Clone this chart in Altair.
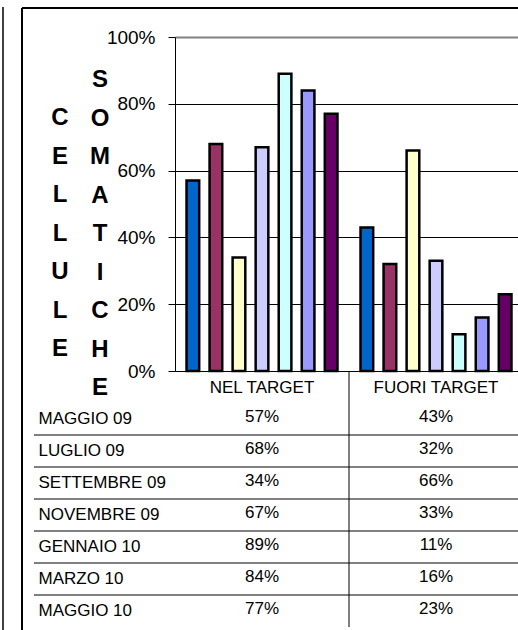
import altair as alt
import pandas as pd

# Somatic cell counts: share of samples in / out of target, by sampling month
months = ["MAGGIO 09", "LUGLIO 09", "SETTEMBRE 09", "NOVEMBRE 09",
          "GENNAIO 10", "MARZO 10", "MAGGIO 10"]
categories = ["NEL TARGET", "FUORI TARGET"]
nel_target = [0.57, 0.68, 0.34, 0.67, 0.89, 0.84, 0.77]
fuori_target = [0.43, 0.32, 0.66, 0.33, 0.11, 0.16, 0.23]
palette = ["#0066CC", "#993366", "#FFFFCC", "#CCCCFF",
           "#CCFFFF", "#9999FF", "#660066"]
title_first = list("CELLULE")
title_second = list("SOMATICHE")

FONT = "Liberation Sans"
W, H = 343, 334          # plot area
TABLE_TOP, TABLE_BOTTOM = 366, 590

rows = []
for m, a, b in zip(months, nel_target, fuori_target):
    rows.append({"month": m, "category": categories[0], "value": a})
    rows.append({"month": m, "category": categories[1], "value": b})
df = pd.DataFrame(rows)
one = pd.DataFrame({"k": [0]})

x_scale = alt.Scale(domain=categories, range=[0, 348], paddingInner=0, paddingOuter=0)
x_axis = alt.Axis(title=None, ticks=False, labelAngle=0, labelPadding=8,
                  labelFontSize=17, labelFont=FONT, labelColor="black",
                  domainColor="black", domainWidth=1)
row_scale = alt.Scale(domain=months, range=[TABLE_TOP, TABLE_BOTTOM],
                      paddingInner=0, paddingOuter=0)
row_axis = alt.Axis(orient="left", title=None, domain=False, ticks=False, grid=False,
                    labelAlign="left", labelPadding=137, labelFontSize=17,
                    labelFont=FONT, labelColor="black", labelLimit=300)

bars = alt.Chart(df).mark_bar(stroke="black", strokeWidth=2.5).encode(
    x=alt.X("category:N", scale=x_scale, axis=x_axis),
    xOffset=alt.XOffset("month:N", scale=alt.Scale(domain=months, paddingInner=0.45,
                                                   paddingOuter=0.5)),
    y=alt.Y("value:Q", scale=alt.Scale(domain=[0, 1]),
            axis=alt.Axis(title=None, format=".0%", values=[0, 0.2, 0.4, 0.6, 0.8, 1],
                          tickSize=7, tickColor="black", labelPadding=13,
                          labelFontSize=19, labelFont=FONT, labelColor="black",
                          domainColor="black",
                          gridColor={"condition": {"test": "datum.value === 1", "value": "#808080"},
                                     "value": "black"},
                          gridWidth={"condition": {"test": "datum.value === 1", "value": 2},
                                     "value": 1},
                          gridOpacity=1)),
    color=alt.Color("month:N", scale=alt.Scale(domain=months, range=palette), legend=None),
)

# stacked-letter axis title, two columns (y is the first line of each column)
title_a = alt.Chart(one).mark_text(
    text=title_first, font=FONT, fontSize=24, fontWeight="bold", lineHeight=38.5,
    align="center", baseline="middle", color="black",
).encode(x=alt.value(-115), y=alt.value(81))
title_b = alt.Chart(one).mark_text(
    text=title_second, font=FONT, fontSize=24, fontWeight="bold", lineHeight=38.5,
    align="center", baseline="middle", color="black",
).encode(x=alt.value(-75), y=alt.value(43))

# chart frame
frame_top = alt.Chart(one).mark_rule(color="black", strokeWidth=2).encode(
    x=alt.value(-153), x2=alt.value(W), y=alt.value(-29))
frame_left = alt.Chart(one).mark_rule(color="black", strokeWidth=2).encode(
    x=alt.value(-153), y=alt.value(-29), y2=alt.value(600))
outer_left = alt.Chart(one).mark_rule(color="black", strokeWidth=1.5).encode(
    x=alt.value(-172), y=alt.value(-30), y2=alt.value(600))

main = alt.layer(bars, title_a, title_b, frame_top, frame_left, outer_left)

# data table under the plot
cells = alt.Chart(df).mark_text(font=FONT, fontSize=17, color="black",
                                baseline="middle", dy=-2).encode(
    x=alt.X("category:N", scale=x_scale, axis=x_axis),
    y=alt.Y("month:N", scale=row_scale, axis=row_axis),
    text=alt.Text("value:Q", format=".0%"),
)
separators = alt.Chart(pd.DataFrame({"month": months[1:]})).mark_rule(
    color="black", strokeWidth=1).encode(
    y=alt.Y("month:N", scale=row_scale, axis=row_axis, bandPosition=0),
    x=alt.value(-141), x2=alt.value(W),
)
divider = alt.Chart(pd.DataFrame({"category": [categories[1]]})).mark_rule(
    color="black", strokeWidth=1).encode(
    x=alt.X("category:N", scale=x_scale, axis=x_axis, bandPosition=0),
    y=alt.value(H), y2=alt.value(590),
)
table = alt.layer(cells, separators, divider)

chart = alt.layer(main, table).resolve_scale(y="independent").properties(
    width=W, height=H,
    padding={"left": 175, "top": 37, "right": 0, "bottom": 259},
    autosize="none",
).configure_view(stroke=None)

chart.save("out.html", embed_options={"renderer": "svg", "actions": False})
